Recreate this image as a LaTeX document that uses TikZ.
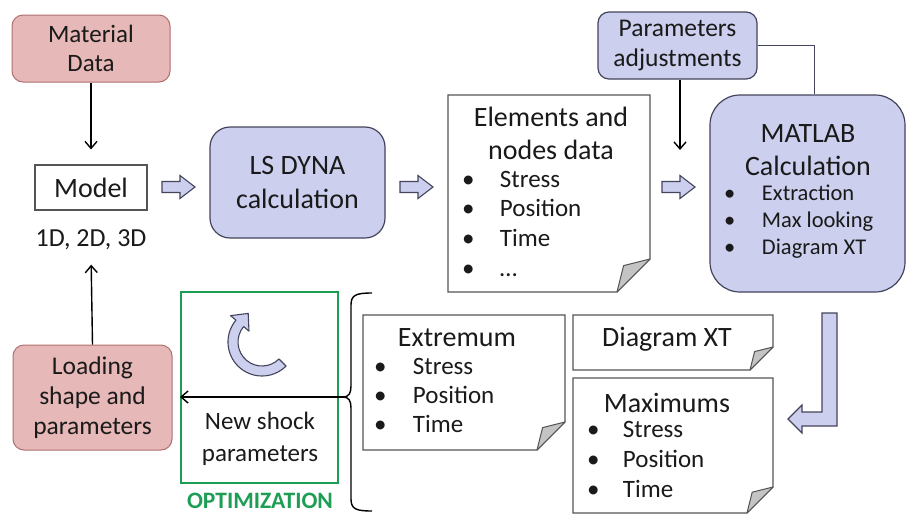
\documentclass[tikz,border=0pt]{standalone}
\usepackage{fontspec}
\setmainfont{Carlito}
\usetikzlibrary{arrows.meta}
\definecolor{pinkf}{HTML}{E6B8B7}
\definecolor{pinkd}{HTML}{B07070}
\definecolor{lavf}{HTML}{CCCFEE}
\definecolor{lavd}{HTML}{44445C}
\definecolor{docd}{HTML}{555555}
\definecolor{flapc}{HTML}{C4C4C4}
\definecolor{optg}{HTML}{1E9E55}
\definecolor{txt}{HTML}{1A1A1A}
\newcommand\docshape[2]{%
  \draw[docd, line width=1.1pt, fill=white] (#1.north west) -- (#1.north east) -- ([yshift=#2]#1.south east) -- ([xshift=-#2]#1.south east) -- (#1.south west) -- cycle;
  \draw[docd, line width=1pt, fill=flapc, line join=round] ([xshift=-#2]#1.south east) -- ([yshift=#2]#1.south east) -- ([xshift=-0.8*#2, yshift=0.8*#2]#1.south east) -- cycle;}
\newcommand\harr[2]{%
  \draw[hollow] (#1,#2-5.5) -- (#1+18,#2-5.5) -- (#1+18,#2-11.5) -- (#1+33,#2) -- (#1+18,#2+11.5) -- (#1+18,#2+5.5) -- (#1,#2+5.5) -- cycle;}
\begin{document}
\begin{tikzpicture}[x=1pt,y=-1pt,
  every node/.style={text=txt},
  pinkbox/.style={draw=pinkd, fill=pinkf, rounded corners=11pt, line width=1pt, align=center},
  lavbox/.style={draw=lavd, fill=lavf, line width=1.2pt, align=center},
  docbox/.style={draw=none, inner sep=0pt, outer sep=0pt},
  conn/.style={line width=1.4pt, black, -{Straight Barb[length=7pt,width=12pt,line width=1.4pt]}},
  hollow/.style={draw=lavd, fill=lavf, line width=1.1pt, line join=miter},
  bl/.style={anchor=west, inner sep=0pt, outer sep=0pt, text height=0.7em, text depth=0.2em},
  fA/.style={font=\fontsize{25.5}{30}\selectfont},
  fB/.style={font=\fontsize{28}{33}\selectfont},
  fC/.style={font=\fontsize{25}{30}\selectfont},
  fD/.style={font=\fontsize{22.5}{27}\selectfont}]
\useasboundingbox (0,0) rectangle (908,515);
\fill[white] (0,0) rectangle (908,515);

% left column
\node[pinkbox, minimum width=158pt, minimum height=67pt, font=\fontsize{25}{29}\selectfont] (mat) at (91,48.5) {Material\\Data};
\node[draw=docd, line width=1.1pt, fB, minimum width=112pt, minimum height=45pt] (model) at (91,187.5) {Model};
\node[font=\fontsize{26}{30}\selectfont] (dims) at (91,240) {1D, 2D, 3D};
\node[pinkbox, fA, minimum width=159pt, minimum height=105pt] (load) at (92.5,397.5) {Loading\\shape and\\parameters};
\draw[conn, shorten >=15pt] (mat.south) -- (model.north);
\draw[conn, shorten >=11pt] (load.north) -- (dims.south);

% LS DYNA
\harr{162}{187}
\node[lavbox, rounded corners=20pt, minimum width=175pt, minimum height=111pt, font=\fontsize{28}{34}\selectfont] (ls) at (297.5,182.5) {LS DYNA\\calculation};
\harr{400}{187}

% Elements document
\node[docbox, minimum width=202pt, minimum height=197pt] (elem) at (549,193.5) {};
\docshape{elem}{33pt}
\node[fB, align=center] (elemt) at (551,133.5) {Elements and\\nodes data};
\node[bl, fC] (e1) at (462,185) {\makebox[38pt][l]{\textbullet}Stress};
\node[bl, fC] (e2) at (462,214) {\makebox[38pt][l]{\textbullet}Position};
\node[bl, fC] (e3) at (462,244) {\makebox[38pt][l]{\textbullet}Time};
\node[bl, fC] (e4) at (462,274) {\makebox[38pt][l]{\textbullet}…};

% Parameters and MATLAB
\node[lavbox, rounded corners=11pt, fA, minimum width=159pt, minimum height=67pt] (param) at (677.5,45.5) {Parameters\\adjustments};
\node[lavbox, rounded corners=30pt, minimum width=195pt, minimum height=197pt] (matlab) at (807.5,193.5) {};
\node[fB, align=center] (matt) at (808,150.5) {MATLAB\\Calculation};
\node[bl, fD] (m1) at (724,198) {\makebox[38pt][l]{\textbullet}Extraction};
\node[bl, fD] (m2) at (724,225) {\makebox[38pt][l]{\textbullet}Max looking};
\node[bl, fD] (m3) at (724,252) {\makebox[38pt][l]{\textbullet}Diagram XT};
\coordinate (pin) at (680,150);
\draw[conn] (param.south -| pin) -- (pin);
\draw[line width=1.2pt, lavd] (param.east) -| ([xshift=7pt]matlab.north);
\harr{662}{187}

% L-shaped hollow arrow
\draw[hollow] (822,313) -- (837,313) -- (837,426) -- (802,426) -- (802,433) -- (788,419) -- (802,405) -- (802,412) -- (822,412) -- cycle;

% Diagram XT and Maximums
\node[docbox, minimum width=200pt, minimum height=55pt] (dxt) at (673,342.5) {};
\docshape{dxt}{23pt}
\node[fB] (dxtt) at (667,339) {Diagram XT};
\node[docbox, minimum width=200pt, minimum height=135pt] (maxd) at (673,445.5) {};
\docshape{maxd}{26pt}
\node[fB] (maxt) at (667,403) {Maximums};
\node[bl, fC] (x1) at (587,435) {\makebox[36pt][l]{\textbullet}Stress};
\node[bl, fC] (x2) at (587,465) {\makebox[36pt][l]{\textbullet}Position};
\node[bl, fC] (x3) at (587,495) {\makebox[36pt][l]{\textbullet}Time};

% Extremum
\node[docbox, minimum width=202pt, minimum height=135pt] (ext) at (464,382.5) {};
\docshape{ext}{28pt}
\node[fB] (extt) at (457,338) {Extremum};
\node[bl, fC] (t1) at (374,372) {\makebox[39pt][l]{\textbullet}Stress};
\node[bl, fC] (t2) at (374,401) {\makebox[39pt][l]{\textbullet}Position};
\node[bl, fC] (t3) at (374,430) {\makebox[39pt][l]{\textbullet}Time};

% brace
\draw[line width=1.4pt, black] (372,293) .. controls (356,293) and (351,295) .. (351,305) -- (351,386) .. controls (351,393) and (349,397) .. (343,397) .. controls (349,397) and (351,401) .. (351,408) -- (351,499) .. controls (351,509) and (356,511) .. (372,511);
\coordinate (btip) at (343,397);

% optimization box
\node[draw=optg, line width=2pt, minimum width=157pt, minimum height=191pt] (opt) at (259.5,387.5) {};
\node[align=center, font=\fontsize{25}{32}\selectfont] (newsh) at (260,439) {New shock\\parameters};
\node[text=optg, inner sep=0pt, font=\fontsize{23.5}{26}\selectfont\bfseries] (optl) at (260,501) {OPTIMIZATION};
\draw[conn] (btip) -- (btip -| opt.west);

% circular arrow
\begin{scope}[shift={(262,342)}, yscale=-1]
  \draw[hollow, line join=round] (-45:34) arc[start angle=-45, end angle=-220, radius=34] -- (-220:41) -- (-13.8,28.6) -- (-220:17) -- (-220:24) arc[start angle=-220, end angle=-45, radius=24] -- cycle;
\end{scope}
\end{tikzpicture}
\end{document}
